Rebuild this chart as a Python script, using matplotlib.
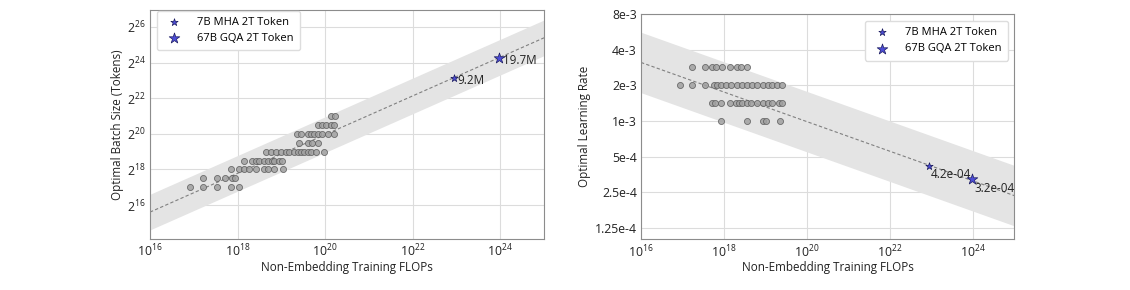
import numpy as np
import matplotlib
matplotlib.use("Agg")
import matplotlib.pyplot as plt
from matplotlib.ticker import FixedLocator, FixedFormatter, NullLocator

plt.rcParams['font.family'] = ['Open Sans', 'DejaVu Sans']
plt.rcParams['mathtext.fontset'] = 'custom'
plt.rcParams['mathtext.rm'] = 'Open Sans'
plt.rcParams['mathtext.it'] = 'Open Sans:italic'

# ---------------- data (log10 of non-embedding FLOPs per row) ----------------
# Batch size grid (rows are log2 of batch size in tokens)
bs_row_log2 = [17, 17.5, 18, 18.5, 19, 19.5, 20, 20.5, 21]
bs_row_flops_log10 = [
    [16.92, 17.22, 17.53, 17.84, 18.03],
    [17.22, 17.53, 17.72, 17.88, 17.95],
    [17.84, 18.03, 18.14, 18.27, 18.41, 18.60, 18.70, 18.83, 19.03],
    [18.14, 18.34, 18.41, 18.49, 18.60, 18.70, 18.79, 18.83, 18.95, 19.02],
    [18.64, 18.76, 18.87, 18.99, 19.10, 19.18, 19.29, 19.37, 19.45, 19.52,
     19.60, 19.68, 19.79, 19.98],
    [19.41, 19.60, 19.71, 19.83],
    [19.35, 19.45, 19.60, 19.68, 19.75, 19.83, 19.94, 20.06, 20.21],
    [19.83, 19.94, 20.02, 20.13, 20.21],
    [20.13, 20.23],
]

# Learning rate grid
lr_rows = [2.83e-3, 2.0e-3, 1.41e-3, 1.0e-3]
lr_row_flops_log10 = [
    [17.24, 17.54, 17.71, 17.80, 17.95, 18.15, 18.32, 18.42, 18.55],
    [16.93, 17.24, 17.54, 17.75, 17.83, 17.92, 18.04, 18.16, 18.32, 18.44,
     18.56, 18.68, 18.80, 18.93, 19.05, 19.17, 19.29, 19.41],
    [17.71, 17.79, 17.92, 18.14, 18.28, 18.36, 18.44, 18.56, 18.64, 18.80,
     18.93, 19.05, 19.17, 19.33, 19.41],
    [17.93, 18.55, 18.93, 19.01, 19.35],
]

# Fitted scaling laws
bs_coef, bs_exp = 0.292, 0.3271
lr_coef, lr_exp = 0.3118, -0.1250
bs_band = 2.0
lr_band = 1.8

# Large models
model_names = ['7B MHA 2T Token', '67B GQA 2T Token']
model_flops = [8.8e22, 9.5e23]
model_bs = [9.2e6, 19.7e6]
model_bs_labels = ['9.2M', '19.7M']
model_lr = [4.2e-4, 3.2e-4]
model_lr_labels = ['4.2e-04', '3.2e-04']
model_sizes = [30, 64]

x_ticks = [1e16, 1e18, 1e20, 1e22, 1e24]
x_ticklabels = [r'$10^{16}$', r'$10^{18}$', r'$10^{20}$', r'$10^{22}$', r'$10^{24}$']
bs_ticks_log2 = [16, 18, 20, 22, 24, 26]
lr_ticks = [1.25e-4, 2.5e-4, 5e-4, 1e-3, 2e-3, 4e-3, 8e-3]
lr_ticklabels = ['1.25e-4', '2.5e-4', '5e-4', '1e-3', '2e-3', '4e-3', '8e-3']

# ---------------- figure ----------------
FS = 8.4
TFS = 8.8
LFS = 8.0
fig = plt.figure(figsize=(11.3, 2.9), dpi=100)
ax1 = fig.add_axes([150/1130, 51/290, 394/1130, 229/290])
ax2 = fig.add_axes([641/1130, 50.7/290, 373.3/1130, 225.3/290])

star_face = '#4d4dd6'
star_edge = '#1a1a5e'
pt_face = '#a0a0a0'
pt_edge = '#5a5a5a'

xs = np.logspace(16, 25, 200)

def style(ax):
    ax.set_xscale('log')
    ax.set_xlim(1e16, 1e25)
    ax.xaxis.set_major_locator(FixedLocator(x_ticks))
    ax.xaxis.set_major_formatter(FixedFormatter(x_ticklabels))
    ax.xaxis.set_minor_locator(NullLocator())
    ax.grid(True, color='#dcdcdc', linewidth=0.8)
    ax.set_axisbelow(True)
    for s in ax.spines.values():
        s.set_color('#8c8c8c')
        s.set_linewidth(0.8)
    ax.tick_params(length=0, labelsize=TFS, pad=3, labelcolor='#222222')
    ax.set_xlabel('Non-Embedding Training FLOPs', fontsize=FS, labelpad=1, color='#222222')

# ---- left: batch size ----
style(ax1)
ax1.set_yscale('log', base=2)
ax1.set_ylim(2**14.1, 2**26.95)
ax1.yaxis.set_major_locator(FixedLocator([2.0**k for k in bs_ticks_log2]))
ax1.yaxis.set_major_formatter(FixedFormatter([r'$2^{%d}$' % k for k in bs_ticks_log2]))
ax1.yaxis.set_minor_locator(NullLocator())
fit_bs = bs_coef * xs ** bs_exp
ax1.fill_between(xs, fit_bs / bs_band, fit_bs * bs_band, color='#e4e4e4', linewidth=0, zorder=1)
ax1.plot(xs, fit_bs, '--', color='#808080', linewidth=0.8, dashes=(3, 2), zorder=2)
for lb, row in zip(bs_row_log2, bs_row_flops_log10):
    ax1.scatter(10 ** np.array(row), [2.0 ** lb] * len(row), s=19, facecolor=pt_face,
                edgecolor=pt_edge, linewidth=0.6, alpha=0.85, zorder=3)
for i in range(2):
    ax1.scatter([model_flops[i]], [model_bs[i]], marker='*', s=model_sizes[i],
                facecolor=star_face, edgecolor=star_edge, linewidth=0.5, zorder=4,
                label=model_names[i])
    ax1.annotate(model_bs_labels[i], (model_flops[i], model_bs[i]), xytext=(2.5, -1.5),
                 textcoords='offset points', fontsize=FS, va='center', ha='left',
                 color='#222222')
ax1.set_ylabel('Optimal Batch Size (Tokens)', fontsize=FS, labelpad=2, color='#222222')
ax1.legend(loc='upper left', bbox_to_anchor=(0.017, 0.997), borderaxespad=0,
           fontsize=LFS, frameon=True, borderpad=0.55, labelspacing=0.5,
           handletextpad=1.1, edgecolor='#dddddd', framealpha=1.0)

# ---- right: learning rate ----
style(ax2)
ax2.set_yscale('log')
ax2.set_ylim(1.0e-4, 8e-3)
ax2.yaxis.set_major_locator(FixedLocator(lr_ticks))
ax2.yaxis.set_major_formatter(FixedFormatter(lr_ticklabels))
ax2.yaxis.set_minor_locator(NullLocator())
fit_lr = lr_coef * xs ** lr_exp
ax2.fill_between(xs, fit_lr / lr_band, fit_lr * lr_band, color='#e4e4e4', linewidth=0, zorder=1)
ax2.plot(xs, fit_lr, '--', color='#808080', linewidth=0.8, dashes=(3, 2), zorder=2)
for lv, row in zip(lr_rows, lr_row_flops_log10):
    ax2.scatter(10 ** np.array(row), [lv] * len(row), s=19, facecolor=pt_face,
                edgecolor=pt_edge, linewidth=0.6, alpha=0.85, zorder=3)
for i in range(2):
    ax2.scatter([model_flops[i]], [model_lr[i]], marker='*', s=model_sizes[i],
                facecolor=star_face, edgecolor=star_edge, linewidth=0.5, zorder=4,
                label=model_names[i])
    ax2.annotate(model_lr_labels[i], (model_flops[i], model_lr[i]), xytext=(1.5, -6.5),
                 textcoords='offset points', fontsize=FS, va='center', ha='left',
                 color='#222222')
ax2.set_ylabel('Optimal Learning Rate', fontsize=FS, labelpad=3, color='#222222')
ax2.legend(loc='upper right', bbox_to_anchor=(0.983, 0.970), borderaxespad=0,
           fontsize=LFS, frameon=True, borderpad=0.55, labelspacing=0.5,
           handletextpad=1.1, edgecolor='#dddddd', framealpha=1.0)

fig.savefig('out.png', dpi=100)
